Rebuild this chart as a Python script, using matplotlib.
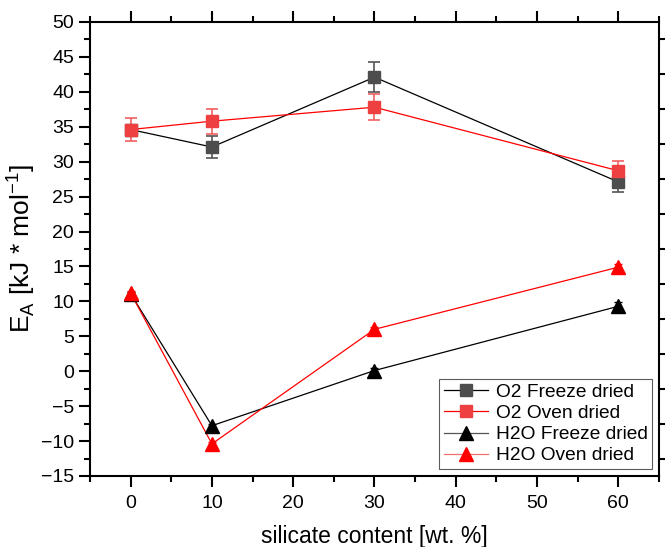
import matplotlib
matplotlib.use("Agg")
import matplotlib.pyplot as plt
from matplotlib.ticker import MultipleLocator

plt.rcParams['font.family'] = ['Liberation Sans', 'DejaVu Sans']

silicate = [0, 10, 30, 60]

o2_freeze = [34.6, 32.1, 42.1, 27.1]
o2_freeze_err = [0.0, 1.6, 2.15, 1.4]
o2_oven = [34.6, 35.8, 37.8, 28.7]
o2_oven_err = [1.7, 1.8, 1.9, 1.4]
h2o_freeze = [11.1, -7.8, 0.1, 9.3]
h2o_freeze_err = [0.3, 0.3, 0.3, 0.6]
h2o_oven = [11.2, -10.4, 6.0, 14.9]
h2o_oven_err = [0.3, 0.3, 0.3, 0.5]

fig = plt.figure(figsize=(6.65, 5.47), dpi=100)
ax = fig.add_axes([0.1353, 0.1298, 0.8557, 0.8300])

ax.plot(silicate, o2_freeze, color='black', lw=0.9, zorder=2)
ax.errorbar(silicate, o2_freeze, yerr=o2_freeze_err, fmt='s', ms=9, color='#4d4d4d',
            ecolor='#555555', elinewidth=1.2, capsize=4, capthick=1.2, zorder=3)
ax.plot(silicate, o2_oven, color='red', lw=0.9, zorder=2)
ax.errorbar(silicate, o2_oven, yerr=o2_oven_err, fmt='s', ms=9, color='#ee4040',
            ecolor='#f06060', elinewidth=1.2, capsize=4, capthick=1.2, zorder=3)
ax.plot(silicate, h2o_freeze, color='black', lw=0.9, zorder=2)
ax.errorbar(silicate, h2o_freeze, yerr=h2o_freeze_err, fmt='^', ms=10, color='black',
            ecolor='black', elinewidth=1.0, capsize=3, zorder=3)
ax.plot(silicate, h2o_oven, color='red', lw=0.9, zorder=2)
ax.errorbar(silicate, h2o_oven, yerr=h2o_oven_err, fmt='^', ms=10, color='red',
            ecolor='red', elinewidth=1.0, capsize=3, zorder=3)

# legend proxies
h1, = ax.plot([], [], '-s', color='black', mfc='#4d4d4d', mec='#4d4d4d', ms=9, lw=0.9)
h2, = ax.plot([], [], '-s', color='red', mfc='#ee4040', mec='#ee4040', ms=9, lw=0.9)
h3, = ax.plot([], [], '-^', color='#555555', mfc='black', mec='black', ms=10, lw=0.9)
h4, = ax.plot([], [], '-^', color='#f07070', mfc='red', mec='red', ms=10, lw=0.9)
leg = ax.legend([h1, h2, h3, h4],
                ['O2 Freeze dried', 'O2 Oven dried', 'H2O Freeze dried', 'H2O Oven dried'],
                loc='lower right', fontsize=13.8, frameon=True, fancybox=False,
                edgecolor='#333333', handlelength=2.3, borderpad=0.25, labelspacing=0.2,
                handletextpad=0.4, borderaxespad=0.35)
leg.get_frame().set_linewidth(0.8)

ax.set_xlim(-5, 65)
ax.set_ylim(-15, 50)
ax.xaxis.set_major_locator(MultipleLocator(10))
ax.xaxis.set_minor_locator(MultipleLocator(5))
ax.yaxis.set_major_locator(MultipleLocator(5))
ax.yaxis.set_minor_locator(MultipleLocator(2.5))
ax.set_xticks([0, 10, 20, 30, 40, 50, 60])

for s in ax.spines.values():
    s.set_linewidth(1.5)

ax.tick_params(which='both', direction='out', top=True, right=True, labelsize=14, width=1.5)
ax.tick_params(which='major', length=8)
ax.tick_params(which='minor', length=4)
ax.tick_params(axis='y', which='major', right=False)
ax.tick_params(axis='x', which='major', pad=6)

ax.set_xlabel('silicate content [wt. %]', fontsize=16.5, labelpad=9)
ax.set_ylabel(r'E$_\mathregular{A}$ [kJ * mol$^\mathregular{-1}$]', fontsize=19, labelpad=3)

fig.savefig('out.png', dpi=100)
